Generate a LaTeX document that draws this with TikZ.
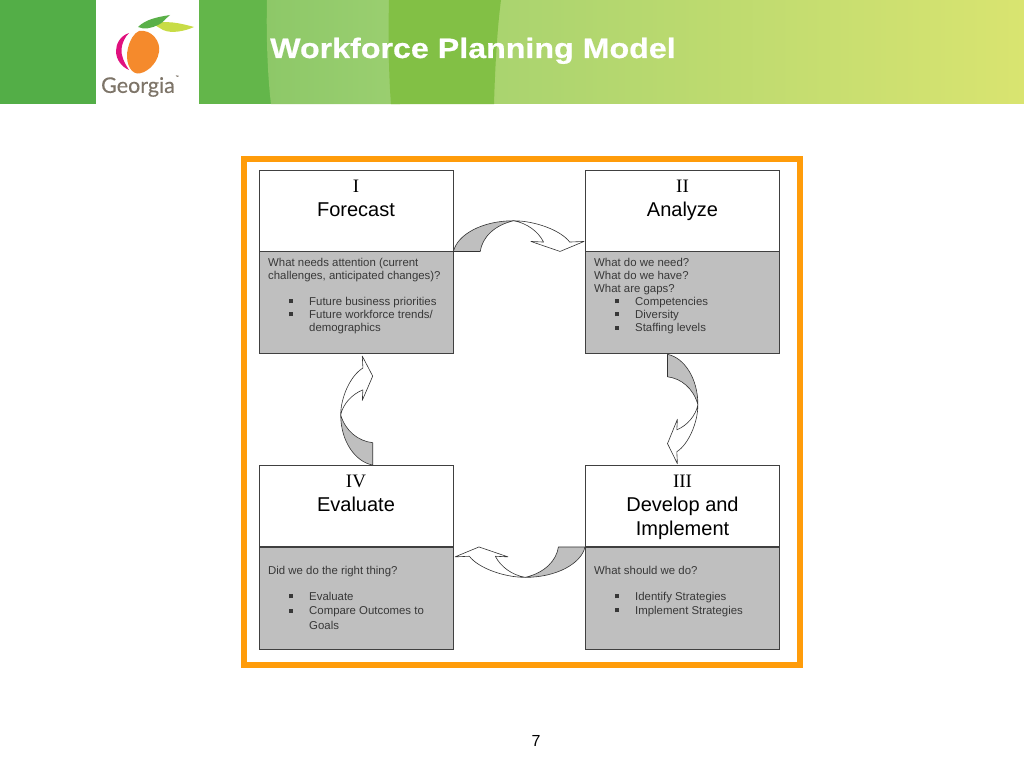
\documentclass[tikz,border=0pt]{standalone}
\usepackage{fontspec}
\setmainfont{Liberation Sans}
\newfontfamily\romanfont{Liberation Serif}
\newfontfamily\logofont[FakeBold=0.3]{Lato}
\newfontfamily\titlefont[FakeStretch=1.15,FakeBold=0.6]{Liberation Sans Bold}
\usetikzlibrary{positioning}

\definecolor{bandgreen}{HTML}{53AE47}
\definecolor{leafgreen}{HTML}{63B64A}
\definecolor{bandmid}{HTML}{82C045}
\definecolor{paleleft}{HTML}{8DC868}
\definecolor{paleright}{HTML}{9BCF70}
\definecolor{limeleft}{HTML}{A8D36F}
\definecolor{limeright}{HTML}{D9E470}
\definecolor{frameorange}{HTML}{FF9C0A}
\definecolor{boxgray}{HTML}{BFBFBF}
\definecolor{peachorange}{HTML}{F58A2C}
\definecolor{peachpink}{HTML}{E0107E}
\definecolor{leafyellow}{HTML}{C8DC46}
\definecolor{leafdark}{HTML}{5AB048}
\definecolor{logogray}{HTML}{7D7468}

\tikzset{
    headbox/.style = {draw=black!75, fill=white, line width=0.9pt, minimum width=194pt, minimum height=81pt, inner sep=0pt},
    bodybox/.style = {draw=black!75, fill=boxgray, line width=0.9pt, minimum width=194pt, minimum height=102pt, inner sep=0pt},
    headtext/.style = {anchor=north, align=center, inner sep=0pt, font=\fontsize{20}{24}\selectfont},
    bodytext/.style = {anchor=north west, align=left, inner sep=0pt, text=black!78, font=\fontsize{11.4}{13}\selectfont},
    bandface/.style = {draw=black!80, line width=0.6pt, line join=round}
}

\newcommand{\sqbullet}{\leavevmode\llap{\rule[2pt]{4pt}{4pt}\hspace{16pt}}}
\newcommand{\romannum}[1]{{\romanfont\fontsize{19}{24}\selectfont #1}}

% #1 start, #2 direction of travel, #3 direction of the bulge
\newcommand{\bentarrow}[3]{
    \begin{scope}[shift={#1}, x={#2}, y={#3}]
        \draw[bandface, fill=boxgray] (0,0) .. controls (0.03,0.55) and (0.22,1) .. (0.46,1)
            .. controls (0.31,0.85) and (0.22,0.45) .. (0.205,0) -- cycle;
        \draw[bandface, fill=white] (0.46,1) .. controls (0.62,1) and (0.82,0.7) .. (0.89,0.306)
            -- (1,0.326) -- (0.816,0) -- (0.593,0.326) -- (0.69,0.306)
            .. controls (0.65,0.65) and (0.56,0.93) .. (0.46,1) -- cycle;
    \end{scope}
}

\begin{document}
\begin{tikzpicture}[x=1pt, y=-1pt]
    \useasboundingbox (0,0) rectangle (1024,768);

    % header
    \fill[bandgreen] (0,0) rectangle (96,104);
    \fill[leafgreen] (199,0) rectangle (280,104);
    \shade[left color=paleleft, right color=paleright]
        (267,0) .. controls (266,40) and (268,80) .. (271,104) -- (400,104) -- (400,0) -- cycle;
    \shade[left color=limeleft, right color=limeright] (480,0) rectangle (1024,103.2);
    \fill[bandmid] (389,0) .. controls (388,40) and (389,80) .. (391,104) -- (494,104)
        .. controls (495,70) and (497,30) .. (501,0) -- cycle;
    \node[anchor=base west, inner sep=0pt, text=white, font=\titlefont\fontsize{28}{28}\selectfont] (title) at (270,58) {Workforce Planning Model};

    % logo
    \fill[peachpink] (129,33) .. controls (120,36) and (116,44) .. (116,51) .. controls (116,60) and (122,67) .. (129,70)
        .. controls (124,62) and (121,56) .. (121.5,49) .. controls (122,43) and (125,37) .. (129,33);
    \fill[peachorange] (139,31) .. controls (152,29) and (161,42) .. (159,52) .. controls (157,65) and (145,74) .. (137,73.5)
        .. controls (129,72) and (125,60) .. (128,48) .. controls (130,40) and (134,33) .. (139,31);
    \fill[leafyellow] (153,24) .. controls (165,20) and (180,23) .. (194,27)
        .. controls (185,31) and (172,34) .. (163,30) -- cycle;
    \fill[leafdark] (138,27) .. controls (146,19) and (158,17) .. (170,15)
        .. controls (165,19) and (163,23) .. (158,25) .. controls (152,28) and (144,30) .. (138,27);
    \node[inner sep=0pt, text=logogray, font=\logofont\fontsize{21.5}{21.5}\selectfont] (logotext) at (138,87) {Georgia};
    \node[inner sep=0pt, text=logogray, font=\logofont\fontsize{4}{4}\selectfont, right=0.5pt of logotext.north east] (logomark) {™};

    % frame
    \draw[frameorange, line width=6pt] (244,159) rectangle (800,665);

    % boxes
    \node[headbox] (forecast) at (356,210.5) {};
    \node[bodybox, below=0pt of forecast] (forecastbody) {};
    \node[headbox] (analyze) at (682.5,210.5) {};
    \node[bodybox, below=0pt of analyze] (analyzebody) {};
    \node[headbox] (develop) at (682.5,506) {};
    \node[bodybox, below=0pt of develop] (developbody) {};
    \node[headbox] (evaluate) at (356,506) {};
    \node[bodybox, below=0pt of evaluate] (evaluatebody) {};

    \node[headtext] (forecasttitle) at ([yshift=-10pt]forecast.north) {\romannum{I}\\Forecast};
    \node[headtext] (analyzetitle) at ([yshift=-10pt]analyze.north) {\romannum{II}\\Analyze};
    \node[headtext] (developtitle) at ([yshift=-10pt]develop.north) {\romannum{III}\\Develop and\\Implement};
    \node[headtext] (evaluatetitle) at ([yshift=-10pt]evaluate.north) {\romannum{IV}\\Evaluate};

    \node[bodytext] (forecastask) at (268,258.5) {What needs attention (current\\challenges, anticipated changes)?};
    \node[bodytext] (forecastlist) at (309,297) {\sqbullet Future business priorities\\\sqbullet Future workforce trends/\\demographics};
    \node[bodytext] (analyzeask) at (594,258) {What do we need?\\What do we have?\\What are gaps?};
    \node[bodytext] (analyzelist) at (635,297) {\sqbullet Competencies\\\sqbullet Diversity\\[0.5pt]\sqbullet Staffing levels};
    \node[bodytext] (developask) at (594,566) {What should we do?};
    \node[bodytext] (developlist) at (635,592) {\sqbullet Identify Strategies\\[1pt]\sqbullet Implement Strategies};
    \node[bodytext] (evaluateask) at (268,566) {Did we do the right thing?};
    \node[bodytext] (evaluatelist) at (309,592) {\sqbullet Evaluate\\[1.5pt]\sqbullet Compare Outcomes to\\[1.5pt]Goals};

    % arrows
    \bentarrow{(forecastbody.north east)}{(130.6pt,0pt)}{(0pt,30.7pt)}
    \bentarrow{([xshift=-15pt]analyzebody.south)}{(0pt,-109.4pt)}{(30.4pt,0pt)}
    \bentarrow{(developbody.north west)}{(-130pt,0pt)}{(0pt,-30.4pt)}
    \bentarrow{([xshift=16.7pt]evaluate.north)}{(0pt,109pt)}{(-32pt,0pt)}

    \node[inner sep=0pt, font=\fontsize{16}{16}\selectfont] (pagenumber) at (536,741) {7};
\end{tikzpicture}
\end{document}
